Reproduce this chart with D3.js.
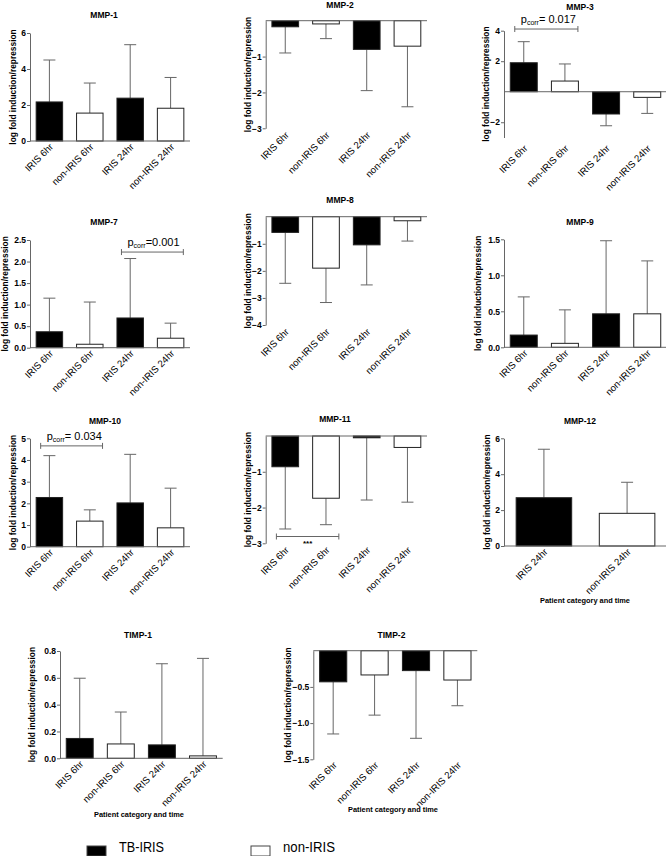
<!DOCTYPE html>
<html><head><meta charset="utf-8">
<script src="https://cdn.jsdelivr.net/npm/d3@7"></script>
<style>
html,body{margin:0;padding:0;background:#fff;}
svg{display:block;font-family:"Liberation Sans",Arial,sans-serif;}
</style></head>
<body>
<svg id="c" width="666" height="856"></svg>
<script>
// ---------- DATA ----------
const categories = ["IRIS 6hr", "non-IRIS 6hr", "IRIS 24hr", "non-IRIS 24hr"];
const categories24 = ["IRIS 24hr", "non-IRIS 24hr"];
const groupOf = {"IRIS 6hr": "TB-IRIS", "non-IRIS 6hr": "non-IRIS", "IRIS 24hr": "TB-IRIS", "non-IRIS 24hr": "non-IRIS"};
const legendLabels = ["TB-IRIS", "non-IRIS"];

const mmp1Mean = [2.17, 1.55, 2.38, 1.82];   const mmp1Sd = [2.33, 1.67, 2.97, 1.71];
const mmp2Mean = [-0.17, -0.09, -0.80, -0.71]; const mmp2Sd = [0.73, 0.41, 1.15, 1.69];
const mmp3Mean = [1.90, 0.70, -1.46, -0.37]; const mmp3Sd = [1.38, 1.12, 0.77, 1.05];
const mmp7Mean = [0.37, 0.08, 0.69, 0.22];   const mmp7Sd = [0.78, 0.98, 1.38, 0.35];
const mmp8Mean = [-0.58, -1.90, -1.04, -0.15]; const mmp8Sd = [1.88, 1.27, 1.48, 0.75];
const mmp9Mean = [0.17, 0.055, 0.465, 0.465]; const mmp9Sd = [0.53, 0.465, 1.015, 0.735];
const mmp10Mean = [2.27, 1.18, 2.02, 0.87];  const mmp10Sd = [1.93, 0.52, 2.24, 1.83];
const mmp11Mean = [-0.86, -1.74, -0.05, -0.32]; const mmp11Sd = [1.74, 0.74, 1.74, 1.53];
const mmp12Mean = [2.69, 1.82];              const mmp12Sd = [2.70, 1.73];
const timp1Mean = [0.148, 0.107, 0.100, 0.018]; const timp1Sd = [0.449, 0.238, 0.605, 0.727];
const timp2Mean = [-0.43, -0.335, -0.275, -0.405]; const timp2Sd = [0.72, 0.555, 0.935, 0.355];

const mmp1Ticks = [0, 2, 4, 6];
const mmp2Ticks = [-1, -2, -3];
const mmp3Ticks = [4, 2, -2];
const mmp7Ticks = [0, 0.5, 1.0, 1.5, 2.0, 2.5];
const mmp8Ticks = [-1, -2, -3, -4];
const mmp9Ticks = [0, 0.5, 1.0, 1.5];
const mmp10Ticks = [0, 1, 2, 3, 4, 5];
const mmp11Ticks = [-1, -2, -3];
const mmp12Ticks = [0, 2, 4, 6];
const timp1Ticks = [0, 0.2, 0.4, 0.6, 0.8];
const timp2Ticks = [-0.5, -1.0, -1.5];

// significance brackets: gene, from, to, level (data units), label
const sigGene  = ["MMP-3", "MMP-7", "MMP-10", "MMP-11"];
const sigFrom  = ["IRIS 6hr", "IRIS 24hr", "IRIS 6hr", "IRIS 6hr"];
const sigTo    = ["non-IRIS 6hr", "non-IRIS 24hr", "non-IRIS 6hr", "non-IRIS 6hr"];
const sigLevel = [4.11, 2.22, 4.65, -2.81];
const sigText  = ["= 0.017", "=0.001", "= 0.034", "***"];

const yTitle = "log fold induction/repression";
const xTitle = "Patient category and time";

// ---------- PANELS ----------
const panels = [
  {gene: "MMP-1", cats: categories, mean: mmp1Mean, sd: mmp1Sd, ticks: mmp1Ticks, dom: [0, 6], fmt: "d"},
  {gene: "MMP-2", cats: categories, mean: mmp2Mean, sd: mmp2Sd, ticks: mmp2Ticks, dom: [-3, 0], fmt: "d"},
  {gene: "MMP-3", cats: categories, mean: mmp3Mean, sd: mmp3Sd, ticks: mmp3Ticks, dom: [-3, 4], fmt: "d"},
  {gene: "MMP-7", cats: categories, mean: mmp7Mean, sd: mmp7Sd, ticks: mmp7Ticks, dom: [0, 2.5], fmt: ".1f"},
  {gene: "MMP-8", cats: categories, mean: mmp8Mean, sd: mmp8Sd, ticks: mmp8Ticks, dom: [-4, 0], fmt: "d"},
  {gene: "MMP-9", cats: categories, mean: mmp9Mean, sd: mmp9Sd, ticks: mmp9Ticks, dom: [0, 1.5], fmt: ".1f"},
  {gene: "MMP-10", cats: categories, mean: mmp10Mean, sd: mmp10Sd, ticks: mmp10Ticks, dom: [0, 5], fmt: "d"},
  {gene: "MMP-11", cats: categories, mean: mmp11Mean, sd: mmp11Sd, ticks: mmp11Ticks, dom: [-3, 0], fmt: "d"},
  {gene: "MMP-12", cats: categories24, mean: mmp12Mean, sd: mmp12Sd, ticks: mmp12Ticks, dom: [0, 6], fmt: "d", xt: true},
  {gene: "TIMP-1", cats: categories, mean: timp1Mean, sd: timp1Sd, ticks: timp1Ticks, dom: [0, 0.8], fmt: ".1f", xt: true},
  {gene: "TIMP-2", cats: categories, mean: timp2Mean, sd: timp2Sd, ticks: timp2Ticks, dom: [-1.5, 0], fmt: ".1f", xt: true}
];

// layout (pixel geometry of each panel)
const layout = {
  "MMP-1":  {x0: 30,    x1: 190,   yt: 33,    yb: 141,   tx: 104, ty: 18,    lx: 13,   lo: 4},
  "MMP-2":  {x0: 265.7, x1: 427,   yt: 20.7,  yb: 128.3, tx: 340, ty: 8,     lx: 248,  lo: 5},
  "MMP-3":  {x0: 504,   x1: 667,   yt: 30.7,  yb: 137.5, tx: 580, ty: 10,    lx: 486,  lo: 9},
  "MMP-7":  {x0: 30,    x1: 190,   yt: 240,   yb: 347.7, tx: 104, ty: 225,   lx: 5,    lo: 4},
  "MMP-8":  {x0: 265.7, x1: 427,   yt: 216.7, yb: 325,   tx: 340, ty: 203,   lx: 248,  lo: 5},
  "MMP-9":  {x0: 504,   x1: 667,   yt: 239.3, yb: 347.3, tx: 580, ty: 224.5, lx: 478,  lo: 4},
  "MMP-10": {x0: 30,    x1: 190,   yt: 438.3, yb: 546.7, tx: 105, ty: 424,   lx: 13,   lo: 4},
  "MMP-11": {x0: 265.7, x1: 427,   yt: 436,   yb: 543.3, tx: 335, ty: 422,   lx: 248,  lo: 5},
  "MMP-12": {x0: 504,   x1: 667,   yt: 438.3, yb: 546,   tx: 580, ty: 424,   lx: 487,  lo: 4, xtx: 585, xty: 603},
  "TIMP-1": {x0: 60,    x1: 222.7, yt: 651,   yb: 758.3, tx: 138, ty: 637.5, lx: 32,   lo: 4, xtx: 139, xty: 817},
  "TIMP-2": {x0: 313.3, x1: 477.3, yt: 650.7, yb: 759.3, tx: 391.5, ty: 637.5, lx: 288.5, lo: 4, xtx: 393, xty: 811.5}
};

const svg = d3.select("#c");
const color = d3.scaleOrdinal().domain(legendLabels).range(["#000", "#fff"]);
const axisCol = "#666";

panels.forEach(p => {
  const L = layout[p.gene];
  const g = svg.append("g");
  const x = d3.scaleBand().domain(p.cats).range([L.x0, L.x1]).paddingInner(0.32).paddingOuter(0.14);
  const y = d3.scaleLinear().domain(p.dom).range([L.yb, L.yt]);
  const data = p.cats.map((c, i) => ({cat: c, mean: p.mean[i], sd: p.sd[i]}));

  // title
  g.append("text").attr("x", L.tx).attr("y", L.ty).attr("text-anchor", "middle")
    .attr("font-size", 8.5).attr("font-weight", "bold").text(p.gene);
  // y title
  g.append("text").attr("transform", `translate(${L.lx},${(L.yt + L.yb) / 2}) rotate(-90)`)
    .attr("text-anchor", "middle").attr("dy", "0.35em")
    .attr("font-size", 8.4).attr("font-weight", "bold").text(yTitle);

  // error bars
  const eb = g.append("g").attr("stroke", axisCol).attr("stroke-width", 1);
  data.forEach(d => {
    const cx = x(d.cat) + x.bandwidth() / 2;
    const end = d.mean >= 0 ? d.mean + d.sd : d.mean - d.sd;
    eb.append("line").attr("x1", cx).attr("x2", cx).attr("y1", y(d.mean)).attr("y2", y(end));
    eb.append("line").attr("x1", cx - 6).attr("x2", cx + 6).attr("y1", y(end)).attr("y2", y(end));
  });

  // bars
  g.selectAll("rect.bar").data(data).enter().append("rect")
    .attr("x", d => x(d.cat) + 0.5)
    .attr("width", x.bandwidth() - 1)
    .attr("y", d => Math.min(y(d.mean), y(0)))
    .attr("height", d => Math.abs(y(d.mean) - y(0)))
    .attr("fill", d => color(groupOf[d.cat]))
    .attr("stroke", "#222").attr("stroke-width", 1);

  // y axis
  const ya = d3.axisLeft(y).tickValues(p.ticks).tickSize(3).tickSizeOuter(0)
    .tickFormat(d3.format(p.fmt));
  const yg = g.append("g").attr("transform", `translate(${L.x0},0)`).call(ya);
  yg.select(".domain").attr("stroke", axisCol);
  yg.selectAll(".tick line").attr("stroke", axisCol);
  yg.selectAll(".tick text").attr("font-size", 8.5).attr("font-weight", "bold")
    .attr("font-family", "Liberation Sans, Arial, sans-serif").attr("fill", "#000").attr("x", -4);

  // x axis line at zero
  g.append("line").attr("x1", L.x0).attr("x2", L.x1).attr("y1", y(0)).attr("y2", y(0))
    .attr("stroke", axisCol).attr("stroke-width", 1);

  // category labels at bottom of plot
  const yl = y(p.dom[0]);
  g.selectAll("text.cat").data(p.cats).enter().append("text")
    .attr("transform", d => `translate(${x(d) + x.bandwidth() / 2 + 2},${yl + L.lo}) rotate(-45)`)
    .attr("text-anchor", "end").attr("dy", "0.35em")
    .attr("font-size", 9.6).text(d => d);

  if (p.xt) {
    g.append("text").attr("x", L.xtx).attr("y", L.xty).attr("text-anchor", "middle")
      .attr("font-size", 7.4).attr("font-weight", "bold").text(xTitle);
  }

  // significance
  sigGene.forEach((sg, i) => {
    if (sg !== p.gene) return;
    const xa = x(sigFrom[i]) + 5;
    const xb = x(sigTo[i]) + x.bandwidth() - 1;
    const yy = y(sigLevel[i]);
    const bg = g.append("g").attr("stroke", axisCol).attr("stroke-width", 1);
    bg.append("line").attr("x1", xa).attr("x2", xb).attr("y1", yy).attr("y2", yy);
    bg.append("line").attr("x1", xa).attr("x2", xa).attr("y1", yy - 3).attr("y2", yy + 3);
    bg.append("line").attr("x1", xb).attr("x2", xb).attr("y1", yy - 3).attr("y2", yy + 3);
    if (sigText[i] === "***") {
      g.append("text").attr("x", (xa + xb) / 2).attr("y", yy + 9).attr("text-anchor", "middle")
        .attr("font-size", 8).attr("font-weight", "bold").text(sigText[i]);
    } else {
      const t = g.append("text").attr("x", xa + 6).attr("y", yy - 6).attr("font-size", 11);
      t.append("tspan").text("p");
      t.append("tspan").attr("font-size", 7).attr("dy", 2).text("corr");
      t.append("tspan").attr("dy", -2).text(sigText[i]);
    }
  });
});

// legend
const lg = svg.append("g");
const legX = [87, 251];
const legTx = [119, 283];
legendLabels.forEach((l, i) => {
  lg.append("rect").attr("x", legX[i]).attr("y", 846).attr("width", 19).attr("height", 10)
    .attr("fill", color(l)).attr("stroke", "#444").attr("stroke-width", 1);
  lg.append("text").attr("x", legTx[i]).attr("y", 852).attr("font-size", 14)
    .attr("textLength", i === 0 ? 45 : 52).attr("lengthAdjust", "spacingAndGlyphs").text(l);
});
</script>
</body></html>
